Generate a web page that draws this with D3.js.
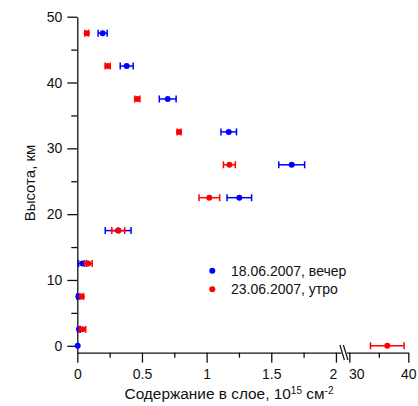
<!DOCTYPE html>
<html>
<head>
<meta charset="utf-8">
<script src="https://cdn.jsdelivr.net/npm/d3@7"></script>
<style>
body { margin: 0; background: #fff; }
text { font-family: "Liberation Sans", Arial, sans-serif; fill: #111; }
</style>
</head>
<body>
<script>
const w = 418;
const h = 406;

// heights of the layers, km
const heights = [47.5, 42.5, 37.5, 32.5, 27.5, 22.5, 17.5, 12.5, 7.5, 2.5, 0];
// 18.06.2007, вечер
const evening = [0.196, 0.382, 0.699, 1.171, 1.658, 1.253, 0.316, 0.04, 0.008, 0.013, 0.003];
const eveningErr = [0.035, 0.05, 0.065, 0.06, 0.1, 0.095, 0.1, 0.03, 0.01, 0.01, 0];
// 23.06.2007, утро
const morning = [0.073, 0.235, 0.464, 0.787, 1.176, 1.021, 0.317, 0.085, 0.034, 0.04, 36.44];
const morningErr = [0.015, 0.02, 0.02, 0.015, 0.046, 0.08, 0.05, 0.03, 0.015, 0.025, 2.85];

const seriesNames = ['18.06.2007, вечер', '23.06.2007, утро'];
const colors = ['#0000ff', '#ff0000'];

const xLeftTicks = [0, 0.5, 1, 1.5, 2];
const xLeftMinor = [0.25, 0.75, 1.25, 1.75];
const xRightTicks = [30, 40];
const xRightMinor = [35];
const yTicks = [0, 10, 20, 30, 40, 50];
const yMinor = [5, 15, 25, 35, 45];

const xLeft = d3.scaleLinear().domain([0, 2.05]).range([77.3, 342.4]);
const xRight = d3.scaleLinear().domain([29.5, 40]).range([346.4, 408.3]);
const y = d3.scaleLinear().domain([-1.05, 50]).range([352.7, 16.7]);
const sx = (v) => v >= 20 ? xRight(v) : xLeft(v);

const svg = d3.select('body').append('svg')
  .attr('width', w)
  .attr('height', h);

const fmt = (d) => String(d);

function styleAxis(g) {
  g.selectAll('path.domain').attr('stroke', '#111').attr('stroke-width', 1.3);
  g.selectAll('.tick line').attr('stroke', '#111').attr('stroke-width', 1.3);
  g.selectAll('.tick text').style('font-size', '14px').attr('fill', '#111');
}

// x axis, left part
const gxl = svg.append('g').attr('transform', 'translate(0,352.7)')
  .call(d3.axisBottom(xLeft).tickValues(xLeftTicks).tickSize(10).tickSizeOuter(0).tickPadding(6).tickFormat(fmt));
styleAxis(gxl);
gxl.selectAll('.tick text').filter(d => d === 2).attr('dx', -3);
const gxlm = svg.append('g').attr('transform', 'translate(0,352.7)')
  .call(d3.axisBottom(xLeft).tickValues(xLeftMinor).tickSize(5).tickFormat(''));
styleAxis(gxlm);
gxlm.select('path.domain').remove();

// x axis, right part
const gxr = svg.append('g').attr('transform', 'translate(0,352.7)')
  .call(d3.axisBottom(xRight).tickValues(xRightTicks).tickSize(10).tickSizeOuter(0).tickPadding(6).tickFormat(fmt));
styleAxis(gxr);
gxr.selectAll('.tick text').filter(d => d === 30).attr('dx', 7);
const gxrm = svg.append('g').attr('transform', 'translate(0,352.7)')
  .call(d3.axisBottom(xRight).tickValues(xRightMinor).tickSize(5).tickFormat(''));
styleAxis(gxrm);
gxrm.select('path.domain').remove();

// break marks
const bx = (xLeft.range()[1] + xRight.range()[0]) / 2;
svg.append('rect').attr('x', bx - 3).attr('y', 350).attr('width', 5).attr('height', 5).attr('fill', '#fff');
[-2.5, 1].forEach(o => {
  svg.append('line')
    .attr('x1', bx + o - 2).attr('y1', 345)
    .attr('x2', bx + o + 2.5).attr('y2', 360)
    .attr('stroke', '#111').attr('stroke-width', 1.2);
});

// y axis
const gy = svg.append('g').attr('transform', 'translate(77.3,0)')
  .call(d3.axisLeft(y).tickValues(yTicks).tickSize(10).tickSizeOuter(0).tickPadding(5).tickFormat(fmt));
styleAxis(gy);
const gym = svg.append('g').attr('transform', 'translate(77.3,0)')
  .call(d3.axisLeft(y).tickValues(yMinor).tickSize(6).tickFormat(''));
styleAxis(gym);
gym.select('path.domain').remove();

// data with error bars
function drawSeries(vals, errs, color) {
  const g = svg.append('g');
  heights.forEach((hh, i) => {
    const cy = y(hh);
    const x0 = sx(vals[i] - errs[i]);
    const x1 = sx(vals[i] + errs[i]);
    if (errs[i] > 0) {
      g.append('line').attr('x1', x0).attr('x2', x1).attr('y1', cy).attr('y2', cy)
        .attr('stroke', color).attr('stroke-width', 1.5);
      [x0, x1].forEach(xx => {
        g.append('line').attr('x1', xx).attr('x2', xx).attr('y1', cy - 3.5).attr('y2', cy + 3.5)
          .attr('stroke', color).attr('stroke-width', 1.5);
      });
    }
    g.append('circle').attr('cx', sx(vals[i])).attr('cy', cy).attr('r', 3).attr('fill', color);
  });
}
drawSeries(evening, eveningErr, colors[0]);
drawSeries(morning, morningErr, colors[1]);

// legend
seriesNames.forEach((name, i) => {
  const ly = 270.7 + i * 18.6;
  svg.append('circle').attr('cx', 212.3).attr('cy', ly).attr('r', 3).attr('fill', colors[i]);
  svg.append('text').attr('x', 231).attr('y', ly + 5).style('font-size', '14px').text(name);
});

// axis titles
svg.append('text')
  .attr('transform', 'translate(35,183) rotate(-90)')
  .attr('text-anchor', 'middle')
  .style('font-size', '15px')
  .text('Высота, км');

const xt = svg.append('text')
  .attr('x', 229).attr('y', 399)
  .attr('text-anchor', 'middle')
  .style('font-size', '15.4px');
xt.append('tspan').text('Содержание в слое, 10');
xt.append('tspan').attr('dy', -5).style('font-size', '10px').text('15');
xt.append('tspan').attr('dy', 5).text(' см');
xt.append('tspan').attr('dy', -5).style('font-size', '10px').text('-2');
</script>
</body>
</html>
